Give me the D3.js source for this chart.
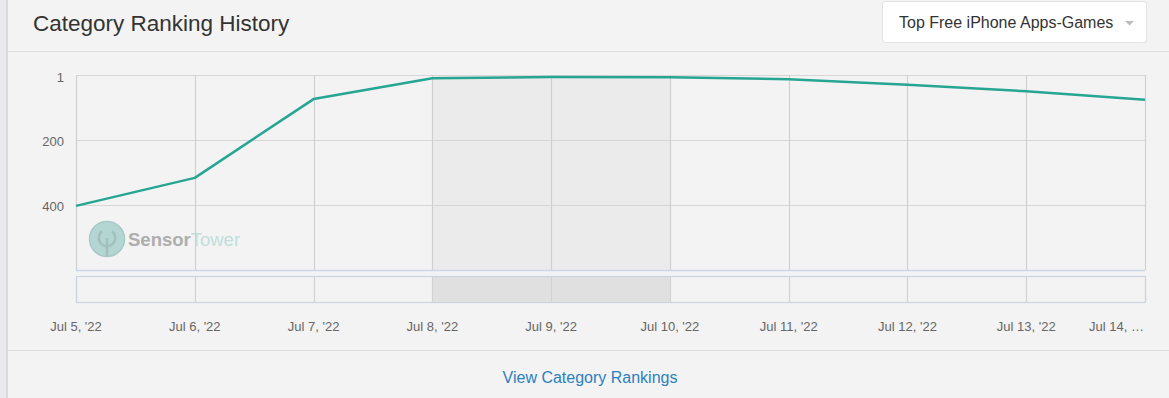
<!DOCTYPE html>
<html>
<head>
<meta charset="utf-8">
<script src="https://cdn.jsdelivr.net/npm/d3@7"></script>
<style>
    body { margin: 0; background: #f3f3f3; font-family: "Liberation Sans", Arial, sans-serif; }
    svg { display: block; }
</style>
</head>
<body>
<div id="chart"></div>
<script>
// values
const dates = ["2022-07-05", "2022-07-06", "2022-07-07", "2022-07-08", "2022-07-09",
               "2022-07-10", "2022-07-11", "2022-07-12", "2022-07-13", "2022-07-14"];
const ranks = [403, 317, 75, 11, 7, 8, 14, 31, 51, 77];
const xLabels = ["Jul 5, '22", "Jul 6, '22", "Jul 7, '22", "Jul 8, '22", "Jul 9, '22",
                 "Jul 10, '22", "Jul 11, '22", "Jul 12, '22", "Jul 13, '22", "Jul 14, \u2026"];
const yTicks = [1, 200, 400];
const bandDates = ["2022-07-08", "2022-07-10"];
const title = "Category Ranking History";
const dropdownText = "Top Free iPhone Apps-Games";
const linkText = "View Category Rankings";

const width = 1169, height = 398;
const parse = d3.timeParse("%Y-%m-%d");
const data = dates.map((d, i) => ({ date: parse(d), rank: ranks[i] }));

const plot = { left: 76, right: 1145, top: 75, bottom: 270 };
const nav = { top: 276, bottom: 302 };

const x = d3.scaleTime()
    .domain(d3.extent(data, d => d.date))
    .range([plot.left, plot.right]);

const y = d3.scaleLinear()
    .domain([1, 600])
    .range([plot.top, plot.bottom]);

const svg = d3.select("#chart").append("svg")
    .attr("width", width)
    .attr("height", height);

// page frame
svg.append("rect").attr("x", 0).attr("y", 0).attr("width", 6).attr("height", height).attr("fill", "#e9e9ee");
svg.append("rect").attr("x", 6).attr("y", 0).attr("width", 2).attr("height", height).attr("fill", "#d9d9de");
svg.append("line").attr("x1", 8).attr("x2", width).attr("y1", 51.5).attr("y2", 51.5).attr("stroke", "#dedede");
svg.append("line").attr("x1", 8).attr("x2", width).attr("y1", 350.5).attr("y2", 350.5).attr("stroke", "#dedede");

// header
svg.append("text")
    .attr("x", 33).attr("y", 31)
    .attr("font-size", 22.5).attr("fill", "#333")
    .text(title);

const dd = svg.append("g");
dd.append("rect")
    .attr("x", 882.5).attr("y", 1.5).attr("width", 264).attr("height", 41).attr("rx", 3)
    .attr("fill", "#fff").attr("stroke", "#e2e2e2");
dd.append("text")
    .attr("x", 899).attr("y", 28)
    .attr("font-size", 16).attr("fill", "#333")
    .text(dropdownText);
dd.append("path")
    .attr("d", "M1125,21 L1134,21 L1129.5,25.5 Z")
    .attr("fill", "#bdbdbd");

// weekend band
const bx0 = x(parse(bandDates[0])), bx1 = x(parse(bandDates[1]));
svg.append("rect")
    .attr("x", bx0).attr("y", plot.top).attr("width", bx1 - bx0).attr("height", plot.bottom - plot.top)
    .attr("fill", "#ebebeb");
svg.append("rect")
    .attr("x", bx0).attr("y", nav.top).attr("width", bx1 - bx0).attr("height", nav.bottom - nav.top)
    .attr("fill", "#e0e0e0");

// horizontal grid
svg.append("g").selectAll("line")
    .data(yTicks.concat([600]))
    .join("line")
    .attr("x1", plot.left).attr("x2", plot.right)
    .attr("y1", d => Math.round(y(d)) + 0.5).attr("y2", d => Math.round(y(d)) + 0.5)
    .attr("stroke", d => d === 600 ? "#ccd6eb" : "#d6d6d6")
    .attr("stroke-width", d => d === 600 ? 1.5 : 1.2);

// vertical grid, through plot and navigator
const vg = svg.append("g");
vg.selectAll("line.g")
    .data(data)
    .join("line")
    .attr("class", "g")
    .attr("x1", d => Math.round(x(d.date)) + 0.5).attr("x2", d => Math.round(x(d.date)) + 0.5)
    .attr("y1", plot.top).attr("y2", plot.bottom)
    .attr("stroke", "#cfcfcf").attr("stroke-width", 1.2);
vg.selectAll("line.n")
    .data(data)
    .join("line")
    .attr("class", "n")
    .attr("x1", d => Math.round(x(d.date)) + 0.5).attr("x2", d => Math.round(x(d.date)) + 0.5)
    .attr("y1", nav.top).attr("y2", nav.bottom)
    .attr("stroke", "#d2d2d2").attr("stroke-width", 1.2);

// navigator outline
svg.append("rect")
    .attr("x", plot.left + 0.5).attr("y", nav.top + 0.5)
    .attr("width", plot.right - plot.left).attr("height", nav.bottom - nav.top)
    .attr("fill", "none").attr("stroke", "#cdd3dc").attr("stroke-width", 1.2);

// y axis labels
svg.append("g").selectAll("text")
    .data(yTicks)
    .join("text")
    .attr("x", 64).attr("y", d => y(d) + 6.5)
    .attr("text-anchor", "end")
    .attr("font-size", 13).attr("fill", "#666")
    .text(d => d);

// x axis labels
svg.append("g").selectAll("text")
    .data(data)
    .join("text")
    .attr("x", (d, i) => i === data.length - 1 ? x(d.date) - 1 : x(d.date))
    .attr("y", 331)
    .attr("text-anchor", (d, i) => i === data.length - 1 ? "end" : "middle")
    .attr("font-size", 13).attr("fill", "#666")
    .text((d, i) => xLabels[i]);

// watermark
const wm = svg.append("g").attr("opacity", 0.85);
wm.append("circle").attr("cx", 107).attr("cy", 239).attr("r", 17.5)
    .attr("fill", "#a9d2ce").attr("stroke", "#9cc4c0").attr("stroke-width", 1.5);
wm.append("path")
    .attr("d", d3.arc()({ innerRadius: 7, outerRadius: 9.5, startAngle: Math.PI * 0.2, endAngle: Math.PI * 1.8 }))
    .attr("transform", "translate(107,238)")
    .attr("fill", "#96b8b5");
wm.append("rect").attr("x", 105.8).attr("y", 238).attr("width", 2.4).attr("height", 18).attr("fill", "#96b8b5");
const wmText = wm.append("text").attr("x", 128).attr("y", 246).attr("font-size", 18.5);
wmText.append("tspan").attr("font-weight", "bold").attr("fill", "#a2a2a2").text("Sensor");
wmText.append("tspan").attr("fill", "#b7dcd8").text("Tower");

// ranking line
const line = d3.line()
    .x(d => x(d.date))
    .y(d => y(d.rank));

svg.append("path")
    .datum(data)
    .attr("fill", "none")
    .attr("stroke", "#27a593")
    .attr("stroke-width", 2.5)
    .attr("stroke-linejoin", "round")
    .attr("d", line);

// link
svg.append("text")
    .attr("x", 590).attr("y", 383)
    .attr("text-anchor", "middle")
    .attr("font-size", 16).attr("fill", "#2b80c0")
    .text(linkText);
</script>
</body>
</html>
